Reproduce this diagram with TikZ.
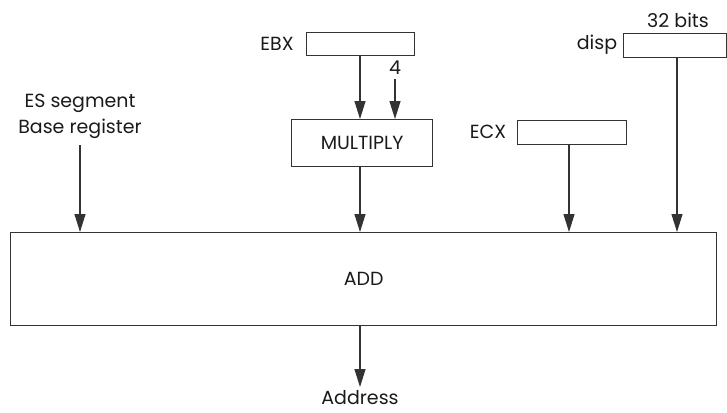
\documentclass[tikz,border=0pt]{standalone}
\usepackage{fontspec}
\setmainfont{Poppins}
\usetikzlibrary{arrows.meta}
\definecolor{ln}{HTML}{333333}
\definecolor{tx}{HTML}{1A1A1A}
\begin{document}
\begin{tikzpicture}[x=1pt,y=-1pt,
  box/.style={draw=ln, line width=1.2pt, inner sep=0pt},
  lbl/.style={font=\fontsize{19}{22}\selectfont, text=tx, inner sep=0pt},
  arr/.style={draw=ln, line width=1.2pt, -{Triangle[length=18pt,width=11pt]}}]
\useasboundingbox (0,0) rectangle (727,412);
% registers
\node[box, minimum width=108pt, minimum height=23pt, anchor=north west] (ebx) at (306,32) {};
\node[lbl] (ebxl) at (277,44) {EBX};
\node[box, minimum width=103pt, minimum height=24pt, anchor=north west] (disp) at (623,33) {};
\node[lbl] (displ) at (597,45) {disp};
\node[lbl] (bits) at (678,20) {32 bits};
\node[box, minimum width=109pt, minimum height=24pt, anchor=north west] (ecx) at (517,120) {};
\node[lbl] (ecxl) at (488,132) {ECX};
\node[box, minimum width=141pt, minimum height=47pt, anchor=north west, lbl] (mul) at (291,119) {MULTIPLY};
\node[lbl] (four) at (395,68) {4};
\node[lbl, align=center] (es) at (80,116) {ES segment\\[4pt]Base register};
\node[box, minimum width=706pt, minimum height=93pt, anchor=north west, lbl] (add) at (10,232) {ADD};
\node[lbl] (addr) at (360,398) {Address};
% connectors
\coordinate (fourtop) at (395,79);
\coordinate (estop) at (80,145);
\coordinate (addrtop) at (360,387);
\draw[arr] (ebx.south -| 360,0) -- (mul.north -| 360,0);
\draw[arr] (fourtop) -- (mul.north -| fourtop);
\draw[arr] (mul.south -| 360,0) -- (add.north -| 360,0);
\draw[arr] (estop) -- (add.north -| estop);
\draw[arr] (ecx.south -| 569,0) -- (add.north -| 569,0);
\draw[arr] (disp.south -| 677,0) -- (add.north -| 677,0);
\draw[arr] (add.south -| 360,0) -- (addrtop);
\end{tikzpicture}
\end{document}
